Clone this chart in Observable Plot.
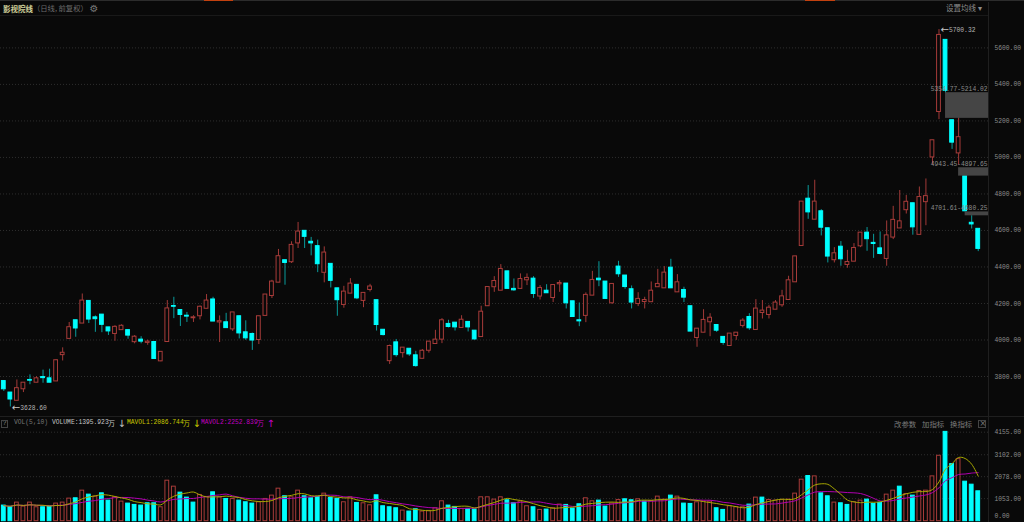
<!DOCTYPE html>
<html><head><meta charset="utf-8">
<script src="https://cdn.jsdelivr.net/npm/d3@7"></script>
<script src="https://cdn.jsdelivr.net/npm/@observablehq/plot@0.6"></script>
<style>
html,body{margin:0;padding:0;background:#090909;overflow:hidden}
#wrap{position:relative;width:1024px;height:522px;background:#090909;overflow:hidden}
#wrap>div.p{position:absolute;left:0}
#wrap svg{display:block;background:transparent}
.t{position:absolute;white-space:pre;line-height:1;color:#8a8a8a}
.cjk{font-family:"Noto Sans CJK SC",sans-serif}
.m{font-family:"Liberation Mono",monospace;font-size:6.3px}
.deco{position:absolute}
</style></head><body><div id="wrap"></div>
<script>
const open_ = [3775,3712,3667,3730,3781,3766,3797,3790,3773,3917,4006,4108,4090,4214,4124,4139,4069,4033,4054,4054,3988,4002,3984,3989,3883,3989,4186,4164,4133,4119,4130,4171,4222,4096,4097,4058,4130,4042,4033,4000,
4132,4241,4314,4437,4426,4529,4598,4538,4514,4368,4417,4283,4192,4254,4302,4214,4274,4218,4056,3884,3987,3928,3952,3916,3897,3941,3978,4002,4088,4095,4066,4099,4051,4016,4185,4289,4270,4376,4280,4280,
4327,4336,4238,4270,4230,4305,4309,4212,4108,4132,4243,4336,4320,4201,4402,4353,4278,4197,4208,4207,4289,4283,4396,4261,4274,4185,4011,4040,4097,4082,4017,3967,4022,4077,4126,4055,4148,4137,4166,4190,
4219,4316,4515,4774,4659,4705,4612,4437,4511,4411,4429,4513,4588,4532,4502,4444,4561,4611,4711,4749,4576,4755,5000,5249,5644,5204,5022,4897,4642,4609];
const close_ = [3730,3674,3736,3766,3777,3790,3791,3766,3889,3930,4070,4063,4216,4112,4114,4083,4047,4072,4078,4024,4018,3991,3991,3896,3935,4173,4182,4137,4128,4124,4182,4216,4101,4103,4065,4151,4036,4009,3997,4130,
4249,4320,4459,4422,4521,4594,4565,4529,4415,4479,4324,4218,4265,4309,4228,4258,4293,4082,4027,3967,3917,3958,3921,3857,3941,3991,4002,4108,4071,4069,4111,4069,4003,4155,4290,4323,4389,4280,4272,4334,
4340,4252,4285,4256,4301,4312,4201,4126,4102,4247,4329,4327,4225,4307,4360,4290,4205,4225,4219,4270,4307,4369,4283,4316,4232,4046,4062,4110,4122,4051,3984,4035,4040,4106,4064,4172,4161,4177,4205,4239,
4327,4458,4758,4699,4758,4615,4457,4475,4442,4427,4504,4588,4552,4526,4471,4573,4658,4650,4757,4617,4783,4788,5094,5671,5365,5081,5111,4705,4633,4499];
const high = [3775,3712,3781,3766,3809,3799,3835,3840,3892,3957,4096,4108,4252,4214,4132,4139,4069,4078,4083,4054,4024,4018,3999,3989,3935,4216,4234,4164,4151,4133,4186,4249,4234,4132,4146,4151,4132,4105,4038,4130,
4249,4327,4496,4437,4538,4644,4598,4562,4547,4510,4417,4283,4294,4336,4302,4258,4305,4218,4056,3972,4003,3958,3952,3938,3948,3991,4053,4117,4108,4095,4133,4099,4051,4185,4290,4347,4413,4376,4334,4362,
4362,4347,4298,4303,4301,4325,4309,4212,4203,4258,4376,4429,4320,4307,4431,4353,4296,4259,4234,4318,4387,4402,4442,4358,4289,4185,4062,4166,4144,4082,4017,4035,4040,4117,4144,4221,4216,4190,4216,4272,
4349,4458,4758,4846,4875,4714,4612,4506,4539,4491,4528,4588,4616,4579,4592,4652,4732,4819,4792,4749,4838,4882,5094,5700.32,5644,5204,5218,4897,4681,4609];
const low = [3718,3633,3667,3712,3755,3766,3763,3766,3773,3885,4006,4015,4090,4090,4042,4040,4025,3993,4054,4004,3979,3979,3971,3896,3881,3989,4117,4074,4096,4096,4110,4171,4101,3986,4063,4047,4006,3998,3943,3975,
4132,4227,4314,4300,4419,4501,4501,4461,4369,4313,4285,4130,4174,4254,4221,4177,4263,4049,4022,3866,3906,3901,3910,3851,3897,3928,3978,3980,4066,4049,4066,4044,4000,4016,4185,4261,4270,4280,4267,4280,
4298,4228,4219,4256,4205,4261,4170,4124,4073,4095,4243,4292,4225,4196,4343,4278,4170,4183,4170,4207,4289,4283,4283,4261,4205,4046,3960,4040,4018,4042,3971,3967,3998,4066,4053,4055,4115,4115,4166,4179,
4219,4316,4515,4661,4659,4570,4422,4422,4404,4393,4429,4506,4486,4447,4466,4404,4550,4611,4690,4574,4576,4626,4958,5207,5350,5044,4958,4700,4608,4484];
const volume = [729,667,868,682,868,651,651,682,822,868,
1054,1070,1426,1240,1147,1302,961,1116,915,822,
760,729,837,837,651,1891,1612,1333,1101,868,
1225,1132,1349,1116,1039,1039,961,884,822,884,
1039,1194,1519,1163,1116,1426,1163,1070,1132,1287,
1085,1039,884,1116,853,837,744,1209,698,651,
605,496,450,558,450,481,605,930,729,667,
574,574,543,1116,1116,1008,1116,977,837,915,
698,651,527,543,605,775,760,589,791,1070,
930,961,682,822,992,1023,977,1023,915,946,
1147,1008,1194,1147,822,806,884,915,915,605,
527,698,651,651,775,1101,1101,992,961,992,
1008,1287,1938,2108,2093,1302,1163,868,837,760,
884,961,1008,806,853,1240,1426,1612,1271,1194,
1411,1426,2093,3054,4170,2666,2899,1845,1705,1395.923];
const volumeSide = "ccrrrrccrr"+"rcrcrccrrc"+"ccccrrrccc"+"rrcrcrcccr"+"rrrcrrcccr"+"ccrrcrrccc"+"crccrrrrcc"+"rccrrrrccr"+"rcrcrrcccr"+"rccrrccrcr"+"rrcrccrrrc"+"crrrcrcrrr"+"rrrcrccrcc"+"rrcccrrcrc"+"rrrrccrccc";
const priceTicks = [5600,5400,5200,5000,4800,4600,4400,4200,4000,3800];
const volumeTicks = [4155,3102,2078,1053];
const gaps = [
  {start:144, top:5354.77, bottom:5214.02, label:"5354.77-5214.02"},
  {start:146, top:4943.45, bottom:4897.65, label:"4943.45-4897.65"},
  {start:147, top:4701.61, bottom:4680.25, label:"4701.61-4680.25"}
];
const extremes = [
  {i:143, price:5700.32, label:"5700.32"},
  {i:1, price:3628.60, label:"3628.60"}
];
const bg = "#090909", red = "#a83c3a", cyan = "#00ffff", redWick = "#a23a38", cyanWick = "#0a9c9c";
const grid = "#2e2e2e", axisText = "#8c8c8c";
const xDomain = [-0.505, 150.57];
const idx = d3.range(open_.length);
const wrap = document.getElementById("wrap");
const fontMono = "Liberation Mono, monospace";

const main = Plot.plot({
  width:1024, height:416, margin:0, marginRight:36,
  style:{background:"transparent", fontFamily:fontMono, fontSize:"6.3px"},
  x:{type:"linear", domain:xDomain, axis:null},
  y:{domain:[3800,5600], range:[376,47.4], axis:null},
  marks:[
    Plot.gridY(priceTicks,{stroke:grid, strokeOpacity:1, strokeDasharray:"1 2"}),
    Plot.axisY({anchor:"right", ticks:priceTicks, tickSize:0, tickPadding:6, label:null, color:axisText,
      tickFormat:d=>d.toFixed(2)}),
    Plot.ruleX(idx,{x:i=>i, y1:i=>low[i], y2:i=>high[i],
      stroke:i=>close_[i]>=open_[i]?redWick:cyanWick, strokeWidth:1}),
    Plot.rect(idx,{x1:i=>i-0.29, x2:i=>i+0.29,
      y1:i=>Math.min(open_[i],close_[i]), y2:i=>Math.max(open_[i],close_[i]),
      fill:i=>close_[i]>=open_[i]?bg:cyan, stroke:i=>close_[i]>=open_[i]?red:cyan, strokeWidth:1}),
    Plot.rect(gaps,{x1:"start", x2:xDomain[1], y1:"bottom", y2:"top", fill:"#454545"}),
    Plot.text(gaps,{x:xDomain[1], y:"top", text:"label", dy:-4, textAnchor:"end", fill:"#8c8c8c", dx:-1}),
    Plot.text(extremes,{x:"i", y:"price", text:()=>"←", dx:1.5, textAnchor:"start", fill:"#c8c8c8",
      fontSize:10, fontFamily:"DejaVu Sans"}),
    Plot.text(extremes,{x:"i", y:"price", text:"label", dx:10, textAnchor:"start", fill:"#b4b4b4"})
  ]
});
const vol = Plot.plot({
  width:1024, height:106, margin:0, marginRight:36,
  style:{background:"transparent", fontFamily:fontMono, fontSize:"6.3px"},
  x:{type:"linear", domain:xDomain, axis:null},
  y:{domain:[0,4155], range:[104.7,15.7], axis:null},
  marks:[
    Plot.gridY(volumeTicks,{stroke:grid, strokeOpacity:1, strokeDasharray:"1 2"}),
    Plot.axisY({anchor:"right", ticks:volumeTicks, tickSize:0, tickPadding:6, label:null, color:axisText,
      tickFormat:d=>d.toFixed(2)}),
    Plot.axisY({anchor:"right", ticks:[0], tickSize:0, tickPadding:6, label:null, color:axisText, dy:-5,
      tickFormat:d=>d.toFixed(2)}),
    Plot.rect(idx,{x1:i=>i-0.29, x2:i=>i+0.29, y1:0, y2:i=>volume[i],
      fill:i=>volumeSide[i]==="r"?bg:cyan, stroke:i=>volumeSide[i]==="r"?red:cyan, strokeWidth:1}),
    Plot.lineY(volume, Plot.windowY({k:10, anchor:"end", reduce:"mean"},
      {x:(d,i)=>i, y:d=>d, stroke:"#b000b0", strokeWidth:1, curve:"catmull-rom"})),
    Plot.lineY(volume, Plot.windowY({k:5, anchor:"end", reduce:"mean"},
      {x:(d,i)=>i, y:d=>d, stroke:"#a8a800", strokeWidth:1, curve:"catmull-rom"}))
  ]
});
function addPlot(node, top){ const d=document.createElement("div"); d.className="p"; d.style.top=top+"px"; d.appendChild(node); wrap.appendChild(d); }
addPlot(main,0); addPlot(vol,416);

function deco(l,t,w,h,c){ const d=document.createElement("div"); d.className="deco";
  d.style.cssText=`left:${l}px;top:${t}px;width:${w}px;height:${h}px;background:${c}`; wrap.appendChild(d); return d; }
deco(0,0,1024,1,"#2c2c2c"); deco(204,0,29,1.4,"#c2410f"); deco(805,0,30,1.4,"#c2410f");
deco(0,15,988,1,"#191919"); deco(0,416,1024,1,"#1f1f1f"); deco(988,2,1,520,"#1f1f1f");

function text(s,l,y,color,cls,size){ const d=document.createElement("div"); d.className="t "+(cls||"");
  d.textContent=s; d.style.left=l+"px"; d.style.top=(y-(size||6.3)/2-0.5)+"px"; d.style.color=color;
  if(size) d.style.fontSize=size+"px"; wrap.appendChild(d); return d; }
const title = text("影视院线",3,9,"#cfcf9a","cjk",7.5); title.style.fontWeight="700";
text("（日线, 前复权）",33,9,"#6c6c6c","cjk",7.3);
const gear = text("⚙",89.5,9,"#777","",10); gear.style.fontFamily="DejaVu Sans";
text("设置均线 ▾",946,8,"#8c8c8c","cjk",7.5);

const q = text("?",2.8,424.2,"#8c8c8c","m"); 
const qb = deco(1,420,7,8,"transparent"); qb.style.border="1px solid #444"; qb.style.boxSizing="border-box";
text("VOL(5,10)",14,424,"#777","m");
text("VOLUME:1395.923",52,424,"#c4c4c4","m"); text("万",108,424,"#c4c4c4","cjk",7);
text("↓",117.5,424,"#c4c4c4","",10).style.fontFamily="DejaVu Sans";
text("MAVOL1:2086.744",127,424,"#c8c800","m"); text("万",183,424,"#c8c800","cjk",7);
text("↓",192.5,424,"#c8c800","",10).style.fontFamily="DejaVu Sans";
text("MAVOL2:2252.839",201,424,"#c000c0","m"); text("万",257,424,"#c000c0","cjk",7);
text("↑",266.5,424,"#c000c0","",10).style.fontFamily="DejaVu Sans";
text("改参数",894,424,"#7c7c7c","cjk",7.4);
text("加指标",922,424,"#7c7c7c","cjk",7.4);
text("换指标",950,424,"#7c7c7c","cjk",7.4);
const xb = deco(978,420,8,8,"transparent"); xb.style.border="1px solid #444"; xb.style.boxSizing="border-box";
text("×",979.5,424,"#777","",8).style.fontFamily="DejaVu Sans";
</script></body></html>
